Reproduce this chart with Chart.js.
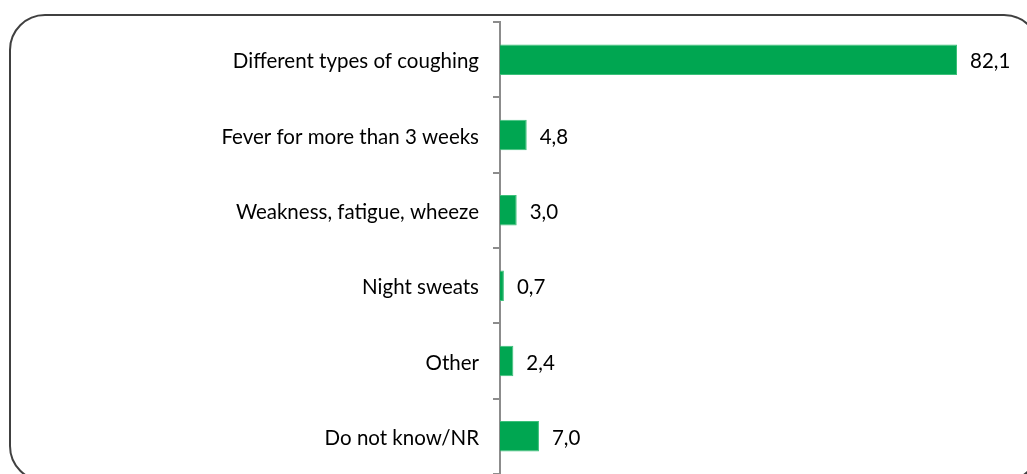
<!DOCTYPE html>
<html>
<head>
<meta charset="utf-8">
<script src="https://cdn.jsdelivr.net/npm/chart.js@4/dist/chart.umd.min.js"></script>
<style>
   html, body { margin: 0; padding: 0; background: #fff; overflow: hidden; }
   #wrap { position: relative; width: 1027px; height: 474px; overflow: hidden; }
   #frame {
      position: absolute; left: 9px; top: 14px; width: 1027px; height: 464px;
      border: 2px solid #404040; border-radius: 36px;
   }
   #chart { position: absolute; left: 0; top: 0; }
</style>
</head>
<body>
<div id="wrap">
   <div id="frame"></div>
   <canvas id="chart" width="1027" height="474"></canvas>
</div>
<script>
const categories = [
   'Different types of coughing',
   'Fever for more than 3 weeks',
   'Weakness, fatigue, wheeze',
   'Night sweats',
   'Other',
   'Do not know/NR'
]
const values = [82.1, 4.8, 3.0, 0.7, 2.4, 7.0]

const fontFamily = 'Lato, "Open Sans", sans-serif'

// value labels next to the bars, with comma decimal
const barLabels = {
   id: 'barLabels',
   afterDatasetsDraw(chart) {
      const ctx = chart.ctx
      const meta = chart.getDatasetMeta(0)
      ctx.save()
      ctx.font = '20.5px ' + fontFamily
      ctx.fillStyle = '#000'
      ctx.textBaseline = 'middle'
      ctx.textAlign = 'left'
      meta.data.forEach((bar, i) => {
         const txt = values[i].toFixed(1).replace('.', ',')
         ctx.fillText(txt, bar.x + 13, bar.y + 2)
      })
      ctx.restore()
   }
}

new Chart(document.getElementById('chart'), {
   type: 'bar',
   data: {
      labels: categories,
      datasets: [{
         data: values,
         backgroundColor: '#00a651',
         borderColor: '#3cc07a',
         borderWidth: 1,
         categoryPercentage: 0.405,
         barPercentage: 1
      }]
   },
   options: {
      indexAxis: 'y',
      responsive: false,
      animation: false,
      layout: { padding: { left: 0, right: 26, top: 22, bottom: 0 } },
      plugins: {
         legend: { display: false },
         tooltip: { enabled: false }
      },
      scales: {
         x: {
            display: false,
            min: 0,
            max: 90
         },
         y: {
            afterFit: scale => {
               scale.width = 500
               scale.paddingTop = 0
               scale.paddingBottom = 0
            },
            grid: {
               drawOnChartArea: false,
               drawTicks: true,
               tickLength: 7,
               color: '#8c8c8c',
               lineWidth: 2
            },
            border: { display: true, color: '#8c8c8c', width: 2 },
            ticks: {
               padding: 14,
               labelOffset: 2,
               color: '#000',
               font: { family: fontFamily, size: 20.5 }
            }
         }
      }
   },
   plugins: [barLabels]
})
</script>
</body>
</html>
